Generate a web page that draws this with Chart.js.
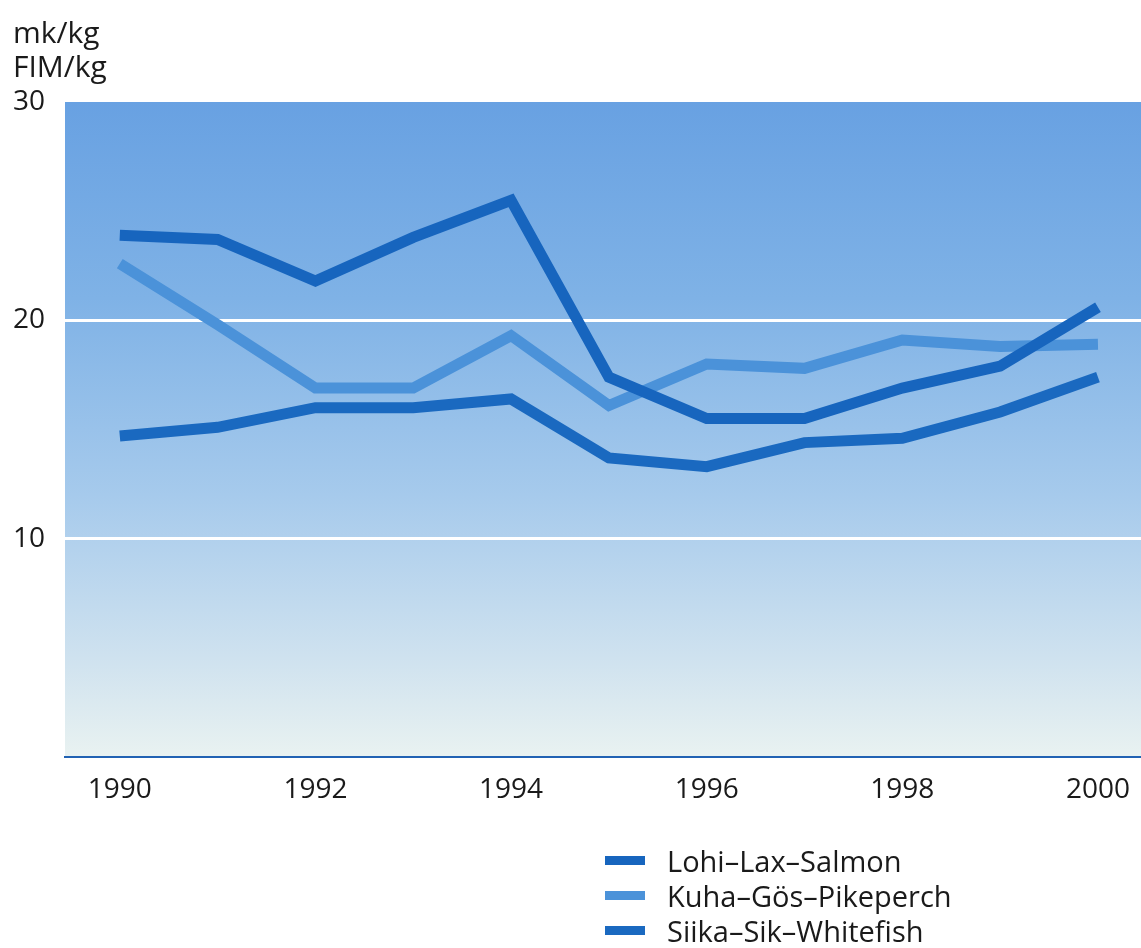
<!DOCTYPE html>
<html>
<head>
<meta charset="utf-8">
<script src="https://cdn.jsdelivr.net/npm/chart.js@4.4.0/dist/chart.umd.min.js"></script>
<style>
  html, body { margin: 0; padding: 0; background: #ffffff; }
  #wrap { position: relative; width: 1141px; height: 948px; overflow: hidden; font-family: "Open Sans", sans-serif; color: #1a1a1a; }
  #c { position: absolute; left: 0; top: 0; }
  .unit { position: absolute; left: 13px; font-size: 30px; line-height: 34px; }
  .legend { position: absolute; left: 605px; top: 843px; font-size: 29px; }
  .row { height: 35px; line-height: 35px; display: flex; align-items: center; }
  .sw { width: 40px; height: 9px; margin-right: 22px; }
</style>
</head>
<body>
<div id="wrap">
  <canvas id="c" width="1141" height="948"></canvas>
  <div class="unit" style="top:15px">mk/kg</div>
  <div class="unit" style="top:49px">FIM/kg</div>
  <div class="legend" id="legend"></div>
</div>
<script>
const years = [1990, 1991, 1992, 1993, 1994, 1995, 1996, 1997, 1998, 1999, 2000];
const salmon = [23.9, 23.7, 21.8, 23.8, 25.5, 17.4, 15.5, 15.5, 16.9, 17.9, 20.6];
const pikeperch = [22.6, 19.8, 16.9, 16.9, 19.3, 16.1, 18.0, 17.8, 19.1, 18.8, 18.9];
const whitefish = [14.7, 15.1, 16.0, 16.0, 16.4, 13.7, 13.3, 14.4, 14.6, 15.8, 17.4];
const seriesNames = ["Lohi–Lax–Salmon", "Kuha–Gös–Pikeperch", "Siika–Sik–Whitefish"];
const seriesColors = ["#1765be", "#4b92d9", "#1a69c0"];
const xTicks = [1990, 1992, 1994, 1996, 1998, 2000];
const yTicks = [10, 20, 30];

const allSeries = [salmon, pikeperch, whitefish];

const bgPlugin = {
  id: 'bg',
  beforeDraw(chart) {
    const { ctx, chartArea: a } = chart;
    const g = ctx.createLinearGradient(0, a.top, 0, a.bottom);
    g.addColorStop(0, '#68a1e2');
    g.addColorStop(0.3, '#7fb2e6');
    g.addColorStop(0.6, '#a6caec');
    g.addColorStop(0.85, '#cfe2ef');
    g.addColorStop(1, '#e9f2f1');
    ctx.save();
    ctx.fillStyle = g;
    ctx.fillRect(a.left, a.top, a.right - a.left, a.bottom - a.top);
    ctx.restore();
  }
};

new Chart(document.getElementById('c'), {
  type: 'line',
  data: {
    datasets: allSeries.map((s, i) => ({
      label: seriesNames[i],
      data: s.map((v, j) => ({ x: years[j], y: v })),
      borderColor: seriesColors[i],
      borderWidth: 11,
      pointRadius: 0,
      tension: 0,
      borderJoinStyle: 'miter',
      borderCapStyle: 'butt',
      fill: false
    }))
  },
  options: {
    responsive: false,
    animation: false,
    layout: { padding: { top: 102, right: 0, left: 0, bottom: 0 } },
    plugins: { legend: { display: false }, tooltip: { enabled: false } },
    scales: {
      x: {
        type: 'linear',
        min: 1989.44,
        max: 2000.44,
        afterBuildTicks: (scale) => { scale.ticks = xTicks.map(v => ({ value: v })); },
        afterFit: (scale) => { scale.height = 191; scale.paddingLeft = 0; scale.paddingRight = 0; },
        grid: { display: false, drawTicks: false },
        border: { display: true, color: '#2262b3', width: 2 },
        ticks: {
          padding: 16,
          color: '#1a1a1a',
          font: { family: 'Open Sans', size: 28 },
          callback: (v) => String(v)
        }
      },
      y: {
        min: 0,
        max: 30,
        afterBuildTicks: (scale) => { scale.ticks = [0].concat(yTicks).map(v => ({ value: v })); },
        afterFit: (scale) => { scale.width = 65; scale.paddingTop = 0; scale.paddingBottom = 0; },
        grid: {
          drawTicks: false,
          lineWidth: 3,
          color: (c) => (c.tick && (c.tick.value === 10 || c.tick.value === 20)) ? '#ffffff' : 'rgba(0,0,0,0)'
        },
        border: { display: false },
        ticks: {
          padding: 20,
          color: '#1a1a1a',
          font: { family: 'Open Sans', size: 28 },
          callback: (v) => v === 0 ? '' : String(v)
        }
      }
    }
  },
  plugins: [bgPlugin]
});

const leg = document.getElementById('legend');
seriesNames.forEach((n, i) => {
  const r = document.createElement('div');
  r.className = 'row';
  r.innerHTML = '<span class="sw" style="background:' + seriesColors[i] + '"></span><span>' + n + '</span>';
  leg.appendChild(r);
});
</script>
</body>
</html>
